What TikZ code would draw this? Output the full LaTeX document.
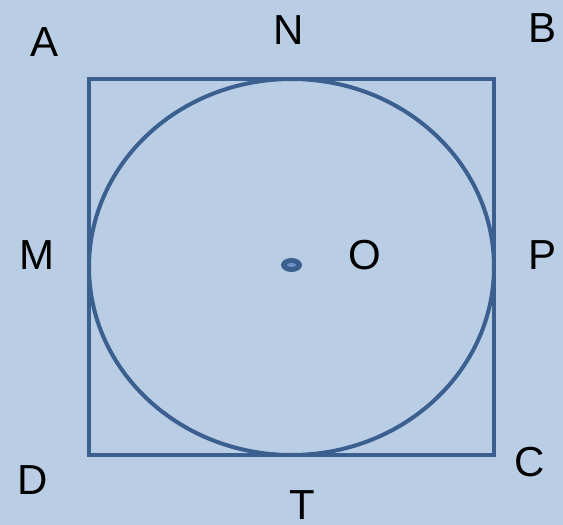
\documentclass[tikz,border=0pt]{standalone}
\usepackage{fontspec}
\setmainfont{Liberation Sans}
\definecolor{bg}{HTML}{B9CDE5}
\definecolor{ln}{HTML}{3B5F8F}
\definecolor{dotin}{HTML}{6F93C8}
\begin{document}
\begin{tikzpicture}[x=1pt,y=-1pt,
  lbl/.style={inner sep=0pt,font=\fontsize{42}{44}\selectfont,text=black},
  shp/.style={draw=ln,line width=4pt}]
\fill[bg] (0,0) rectangle (563,525);
\useasboundingbox (0,0) rectangle (563,525);
\coordinate (a) at (89,79);
\coordinate (b) at (494,79);
\coordinate (c) at (494,455);
\coordinate (d) at (89,455);
\coordinate (o) at (291.5,267);
\draw[shp] (a) -- (b) -- (c) -- (d) -- cycle;
\draw[shp] (o) ellipse [x radius=202.5, y radius=188];
\fill[ln] (291.5,265) ellipse [x radius=10.5, y radius=7];
\fill[dotin] (291.5,265) ellipse [x radius=4.5, y radius=2];
\node[lbl] (A) at (45,42) {A};
\node[lbl] (N) at (289,30) {N};
\node[lbl] (B) at (543,28) {B};
\node[lbl] (M) at (37,255) {M};
\node[lbl] (O) at (365,255) {O};
\node[lbl] (P) at (543,255) {P};
\node[lbl] (D) at (33,480) {D};
\node[lbl] (T) at (302,505) {T};
\node[lbl] (C) at (530,462) {C};
\end{tikzpicture}
\end{document}
